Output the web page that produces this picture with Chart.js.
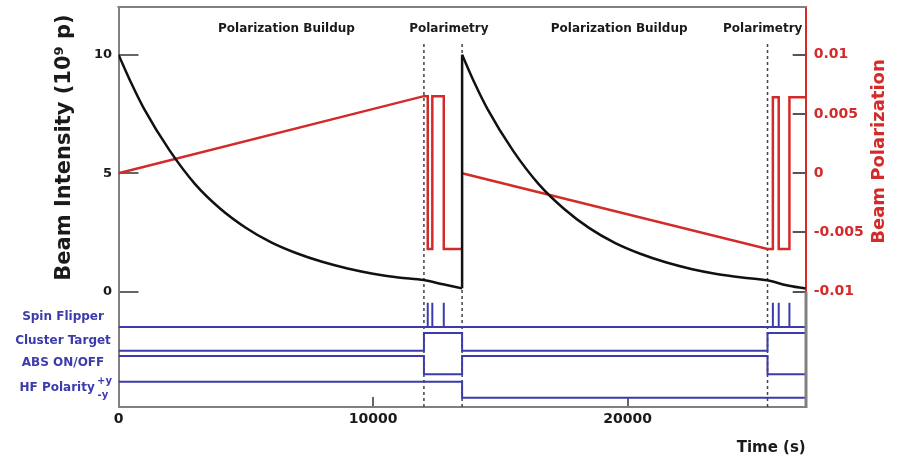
<!DOCTYPE html>
<html>
<head>
<meta charset="utf-8">
<script src="https://cdn.jsdelivr.net/npm/chart.js@4.4.1/dist/chart.umd.min.js"></script>
<style>
  html, body { margin: 0; padding: 0; background: #fff; }
  #wrap { width: 899px; height: 460px; }
</style>
</head>
<body>
<div id="wrap"><canvas id="c" width="899" height="460"></canvas></div>
<script>
// Beam intensity (10^9 p) during two buildup + polarimetry cycles
const cycle1Time = [0, 500, 1000, 2000, 3000, 4000, 5000, 6000, 7000, 8000, 9000, 10000, 11000, 12000, 12750, 13500];
const cycle1Intensity = [10, 8.8, 7.72, 5.97, 4.55, 3.5, 2.7, 2.08, 1.62, 1.26, 0.98, 0.76, 0.6, 0.49, 0.31, 0.14];
const cycle2Time = [13500, 14000, 14500, 15500, 16500, 17500, 18500, 19500, 20500, 21500, 22500, 23500, 24500, 25500, 26250, 27000];
const cycle2Intensity = [10, 8.78, 7.7, 5.95, 4.55, 3.5, 2.68, 2.06, 1.6, 1.24, 0.96, 0.75, 0.6, 0.48, 0.27, 0.13];

// Beam polarization: linear buildup, then flipped during polarimetry
const pol1Time = [0, 12000, 12150, 12150, 12330, 12330, 12780, 12780, 13500];
const pol1Value = [0, 0.0065, 0.0065, -0.0064, -0.0064, 0.0065, 0.0065, -0.0064, -0.0064];
const pol2Time = [13500, 25500, 25710, 25710, 25940, 25940, 26360, 26360, 27000];
const pol2Value = [0, -0.0064, -0.0064, 0.0064, 0.0064, -0.0064, -0.0064, 0.0064, 0.0064];

// Control signals: state taken from each switching time onward
const phaseTime = [0, 12000, 13500, 25500, 27000];
const clusterOn = [0, 1, 0, 1, 1];
const absOn = [1, 0, 1, 0, 0];
const hfPlusY = [1, 1, 0, 0, 0];
const spinFlipTime = [12150, 12330, 12780, 25710, 25940, 26360];

// Start and end of the polarimetry periods
const polarimetryEdges = [12000, 13500, 25500];

const xTicks = [0, 10000, 20000];
const intensityTicks = [0, 5, 10];
const polTicks = [-0.01, -0.005, 0, 0.005, 0.01];
const polTickLabels = ['-0.01', '-0.005', '0', '0.005', '0.01'];

const phaseLabels = ['Polarization Buildup', 'Polarimetry', 'Polarization Buildup', 'Polarimetry'];
const rowLabels = ['Spin Flipper', 'Cluster Target', 'ABS ON/OFF', 'HF Polarity'];

// ---- layout / style settings ----
const PHASE_LABEL_AT = [6600, 12980, 19670, 25310];
const Y_MIN = -4.865, Y_MAX = 12.01;              // intensity axis
const P_MIN = (Y_MIN - 5) / 500, P_MAX = (Y_MAX - 5) / 500; // polarization axis shares the grid
const DASH_TOP = 10.55;                           // dashed markers end just under the phase labels
// signal rows on the hidden 'ys' axis (0 .. 16.5)
const LEVEL = {
  spin:    { low: 3.30, high: 4.30, label: 3.71 },
  cluster: { off: 2.32, on: 3.05, label: 2.72 },
  abs:     { off: 1.35, on: 2.10, label: 1.82 },
  hf:      { minus: 0.38, plus: 1.04, label: 0.78 }
};
const RED = '#d42a2a', BLACK = '#111111', BLUE = '#3b3bab', GRAY = '#808080';
const FONT = "'DejaVu Sans', sans-serif";

const pts = (xs, ys) => xs.map((x, i) => ({ x, y: ys[i] }));
const steps = (states, lo, hi) => phaseTime.map((t, i) => ({ x: t, y: states[i] ? hi : lo }));

const spinData = [{ x: 0, y: LEVEL.spin.low }];
spinFlipTime.forEach(t => {
  spinData.push({ x: t, y: LEVEL.spin.low }, { x: t, y: LEVEL.spin.high }, { x: t, y: LEVEL.spin.low });
});
spinData.push({ x: 27000, y: LEVEL.spin.low });

const signalStyle = { borderColor: BLUE, borderWidth: 2, yAxisID: 'ys', tension: 0, order: 3 };

const datasets = [
  { label: 'Beam intensity', data: pts(cycle1Time, cycle1Intensity), borderColor: BLACK, borderWidth: 2.5,
    cubicInterpolationMode: 'monotone', yAxisID: 'y', order: 1 },
  { label: 'Beam intensity (refill)', data: [
      { x: cycle1Time[cycle1Time.length - 1], y: cycle1Intensity[cycle1Intensity.length - 1] },
      { x: cycle2Time[0], y: cycle2Intensity[0] }],
    borderColor: BLACK, borderWidth: 2.5, tension: 0, yAxisID: 'y', order: 1 },
  { label: 'Beam intensity 2', data: pts(cycle2Time, cycle2Intensity), borderColor: BLACK, borderWidth: 2.5,
    cubicInterpolationMode: 'monotone', yAxisID: 'y', order: 1 },
  { label: 'Beam polarization', data: pts(pol1Time, pol1Value), borderColor: RED, borderWidth: 2.5,
    tension: 0, yAxisID: 'yp', order: 2 },
  { label: 'Beam polarization 2', data: pts(pol2Time, pol2Value), borderColor: RED, borderWidth: 2.5,
    tension: 0, yAxisID: 'yp', order: 2 },
  Object.assign({ label: 'Spin Flipper', data: spinData }, signalStyle),
  Object.assign({ label: 'Cluster Target', data: steps(clusterOn, LEVEL.cluster.off, LEVEL.cluster.on), stepped: true }, signalStyle),
  Object.assign({ label: 'ABS ON/OFF', data: steps(absOn, LEVEL.abs.off, LEVEL.abs.on), stepped: true }, signalStyle),
  Object.assign({ label: 'HF Polarity', data: steps(hfPlusY, LEVEL.hf.minus, LEVEL.hf.plus), stepped: true }, signalStyle)
];
polarimetryEdges.forEach(t => {
  datasets.push({ label: 'edge', data: [{ x: t, y: Y_MIN }, { x: t, y: DASH_TOP }], borderColor: '#444',
    borderWidth: 1.5, borderDash: [3, 3], tension: 0, yAxisID: 'y', order: 5 });
});

// phase headers, row names, axis titles and the rest of the frame
const annotate = {
  id: 'annotate',
  afterDraw(chart) {
    const { ctx, chartArea: a, scales } = chart;
    const x = scales.x, ys = scales.ys, yp = scales.yp;
    ctx.save();
    ctx.strokeStyle = GRAY; ctx.lineWidth = 2;
    ctx.beginPath(); ctx.moveTo(a.left - 1, a.top); ctx.lineTo(a.right + 1, a.top); ctx.stroke();
    const yLow = yp.getPixelForValue(-0.01);
    const xr = Math.round(yp.left);
    ctx.lineWidth = 3;
    ctx.beginPath(); ctx.moveTo(xr, yLow); ctx.lineTo(xr, a.bottom + 1); ctx.stroke();

    ctx.fillStyle = '#1a1a1a';
    ctx.font = 'bold 12px ' + FONT;
    ctx.textAlign = 'center'; ctx.textBaseline = 'middle';
    phaseLabels.forEach((s, i) => ctx.fillText(s, x.getPixelForValue(PHASE_LABEL_AT[i]), a.top + 22));

    ctx.fillStyle = BLUE;
    ctx.font = 'bold 12px ' + FONT;
    const rows = [LEVEL.spin, LEVEL.cluster, LEVEL.abs];
    rows.forEach((r, i) => ctx.fillText(rowLabels[i], 63, ys.getPixelForValue(r.label)));
    const hy = ys.getPixelForValue(LEVEL.hf.label);
    ctx.textAlign = 'left';
    ctx.fillText(rowLabels[3], 19.5, hy);
    ctx.font = 'bold 10px ' + FONT;
    ctx.fillText('+y', 97, hy - 6.5);
    ctx.fillText('-y', 97.5, hy + 7);

    const vText = (text, cx, cy, font, color) => {
      ctx.save(); ctx.translate(cx, cy); ctx.rotate(-Math.PI / 2);
      ctx.font = font; ctx.fillStyle = color; ctx.textAlign = 'center'; ctx.textBaseline = 'middle';
      ctx.fillText(text, 0, 0); ctx.restore();
    };
    vText('Beam Intensity (10\u2079 p)', 65, 147.5, 'bold 21px ' + FONT, '#1a1a1a');
    vText('Beam Polarization', 879, 151.5, 'bold 18px ' + FONT, RED);
    ctx.restore();
  }
};

const tickFont = (size) => ({ family: FONT, weight: 'bold', size, lineHeight: 1 });
// fixed axis boxes; no extra label padding pushed into the layout
const fixBox = (w, h) => s => {
  if (w !== null) s.width = w;
  if (h !== null) s.height = h;
  s.paddingTop = 0; s.paddingBottom = 0; s.paddingLeft = 0; s.paddingRight = 0;
};

new Chart(document.getElementById('c'), {
  type: 'line',
  data: { datasets },
  options: {
    responsive: false,
    animation: false,
    devicePixelRatio: 1,
    layout: { padding: { top: 7, left: 0, right: 0, bottom: 0 } },
    elements: { point: { radius: 0, hitRadius: 0 }, line: { fill: false } },
    plugins: { legend: { display: false }, tooltip: { enabled: false } },
    scales: {
      x: {
        type: 'linear', min: 0, max: 27000, position: 'bottom',
        afterFit: fixBox(null, 53),
        afterBuildTicks: s => { s.ticks = xTicks.map(v => ({ value: v })); },
        ticks: { font: tickFont(14), color: '#1a1a1a', padding: 15, maxRotation: 0, callback: v => String(v) },
        grid: { drawOnChartArea: false, drawTicks: true, tickLength: -10, color: '#666', lineWidth: 2 },
        border: { display: true, color: GRAY, width: 2 },
        title: { display: true, text: 'Time (s)', align: 'end', color: '#1a1a1a',
                 font: { family: FONT, weight: 'bold', size: 15 }, padding: { top: 0, bottom: 3 } }
      },
      y: {
        type: 'linear', min: Y_MIN, max: Y_MAX, position: 'left',
        afterFit: fixBox(118.5, null),
        afterBuildTicks: s => { s.ticks = intensityTicks.map(v => ({ value: v })); },
        ticks: { font: tickFont(13), color: '#1a1a1a', padding: 26.5, callback: v => String(v) },
        grid: { drawOnChartArea: false, drawTicks: true, tickLength: -20, color: '#666', lineWidth: 2 },
        border: { display: true, color: GRAY, width: 2 }
      },
      ys: { type: 'linear', min: 0, max: 16.5, display: false },
      yp: {
        type: 'linear', min: P_MIN, max: P_MAX, position: 'right',
        afterFit: fixBox(93.3, null),
        afterBuildTicks: s => { s.ticks = polTicks.map(v => ({ value: v })); },
        ticks: { font: tickFont(14), color: RED, padding: 21, callback: (v, i) => polTickLabels[i] },
        grid: { drawOnChartArea: false, drawTicks: true, tickLength: -13, color: '#555', lineWidth: 2 },
        border: { display: true, color: RED, width: 2 }
      }
    }
  },
  plugins: [annotate]
});
</script>
</body>
</html>
